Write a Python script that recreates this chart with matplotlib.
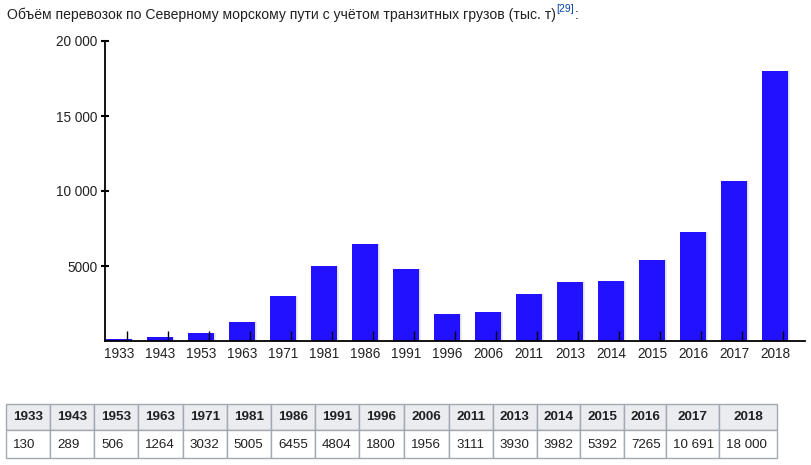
import matplotlib
matplotlib.use('Agg')
import matplotlib.pyplot as plt
import numpy as np
from matplotlib.patches import Rectangle
from matplotlib.ticker import FuncFormatter

plt.rcParams['font.family'] = ['Liberation Sans', 'DejaVu Sans']

# data (тыс. т)
years = ['1933', '1943', '1953', '1963', '1971', '1981', '1986', '1991', '1996',
         '2006', '2011', '2013', '2014', '2015', '2016', '2017', '2018']
volumes = [130, 289, 506, 1264, 3032, 5005, 6455, 4804, 1800,
           1956, 3111, 3930, 3982, 5392, 7265, 10691, 18000]
y_ticks = [5000, 10000, 15000, 20000]
title_text = 'Объём перевозок по Северному морскому пути с учётом транзитных грузов (тыс. т)'
ref_text = '[29]'

W, H = 811, 465
bar_color = '#2211ff'
text_color = '#222222'


def fmt_ru(v, pos=None):
    v = int(round(v))
    if v >= 10000:
        return '{:,}'.format(v).replace(',', ' ')
    return str(v)


fig = plt.figure(figsize=(W / 100, H / 100), dpi=100)

# overlay in pixel coords for title and table
ov = fig.add_axes([0, 0, 1, 1])
ov.set_xlim(0, W)
ov.set_ylim(H, 0)
ov.axis('off')

# chart
ax = fig.add_axes([105 / W, (H - 341) / H, 700 / W, 300 / H])
x = np.arange(len(years))
ax.bar(x + 0.06, volumes, width=0.63, color='black', alpha=0.07, zorder=1)
ax.bar(x + 0.03, volumes, width=0.63, color='black', alpha=0.06, zorder=1)
ax.bar(x, volumes, width=0.63, color=bar_color, zorder=2)
ax.set_axisbelow(False)
ax.set_xlim(-0.34, 16.73)
ax.set_ylim(0, 20000)
ax.patch.set_alpha(0)
for s in ['top', 'right']:
    ax.spines[s].set_visible(False)
for s in ['left', 'bottom']:
    ax.spines[s].set_linewidth(1.3)
    ax.spines[s].set_color('black')
    ax.spines[s].set_zorder(3)

ax.set_xticks(x)
ax.set_xticklabels(years)
ax.tick_params(axis='x', which='major', length=0, pad=4, labelsize=9.8, labelcolor=text_color)
ax.set_xticks(x + 0.195, minor=True)
ax.tick_params(axis='x', which='minor', direction='in', length=7.2, width=1.0, color='black')

ax.set_yticks(y_ticks)
ax.yaxis.set_major_formatter(FuncFormatter(fmt_ru))
ax.tick_params(axis='y', direction='inout', length=5.8, width=1.5, pad=2.5,
               labelsize=9.8, labelcolor=text_color)

# title with reference mark
fig.canvas.draw()
renderer = fig.canvas.get_renderer()
t = ov.text(7, 15, title_text, fontsize=10.05, color='#202122', va='center', ha='left')
x_end = t.get_window_extent(renderer).x1
r = ov.text(x_end, 8.5, ref_text, fontsize=7.5, color='#0645ad', va='center', ha='left')
x_end = r.get_window_extent(renderer).x1
ov.text(x_end + 1, 15, ':', fontsize=10.05, color='#202122', va='center', ha='left')

# table
col_edges = [6, 50, 94.3, 138.3, 182.7, 226.7, 271, 315, 359.3, 403.5,
             449.3, 492.7, 536.7, 580, 624, 666, 719, 777]
row_edges = [404, 430, 458]
for i, (yr, v) in enumerate(zip(years, volumes)):
    x0, x1 = col_edges[i], col_edges[i + 1]
    ov.add_patch(Rectangle((x0, row_edges[0]), x1 - x0, row_edges[1] - row_edges[0],
                           facecolor='#eaecf0', edgecolor='#a2a9b1', lw=1))
    ov.add_patch(Rectangle((x0, row_edges[1]), x1 - x0, row_edges[2] - row_edges[1],
                           facecolor='white', edgecolor='#a2a9b1', lw=1))
    ov.text((x0 + x1) / 2, (row_edges[0] + row_edges[1]) / 2, yr, fontsize=9.7,
            fontweight='bold', color='#202122', ha='center', va='center')
    ov.text(x0 + 7, (row_edges[1] + row_edges[2]) / 2 + 1, fmt_ru(v), fontsize=9.6,
            color='#202122', ha='left', va='center')

fig.savefig('out.png', dpi=100)
